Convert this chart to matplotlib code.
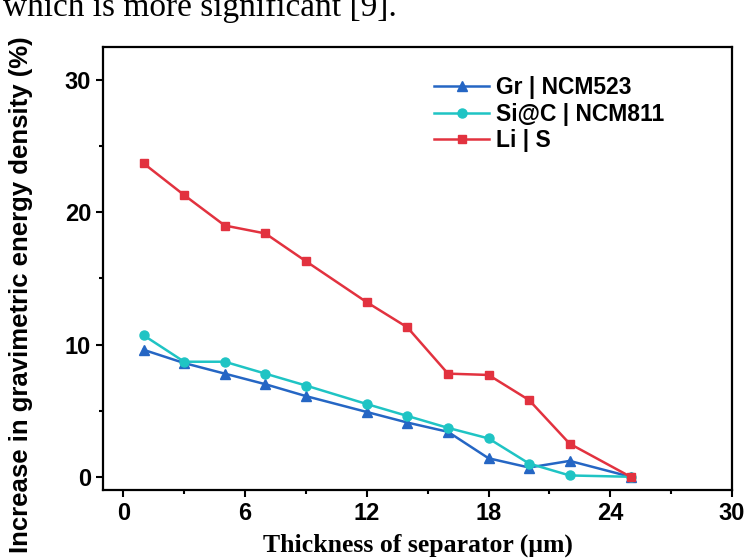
import matplotlib
matplotlib.use("Agg")
import matplotlib.pyplot as plt
from matplotlib.ticker import MultipleLocator

# separator thickness (um)
thickness = [1, 3, 5, 7, 9, 12, 14, 16, 18, 20, 22, 25]

# increase in gravimetric energy density (%)
gr_ncm523 = [9.6, 8.6, 7.8, 7.0, 6.1, 4.9, 4.1, 3.4, 1.4, 0.7, 1.2, 0.0]
sic_ncm811 = [10.7, 8.7, 8.7, 7.8, 6.9, 5.5, 4.6, 3.7, 2.9, 1.0, 0.1, 0.0]
li_s = [23.7, 21.3, 19.0, 18.4, 16.3, 13.2, 11.3, 7.8, 7.7, 5.8, 2.5, 0.0]

labels = ["Gr | NCM523", "Si@C | NCM811", "Li | S"]
xticks = [0, 6, 12, 18, 24, 30]
yticks = [0, 10, 20, 30]

fig = plt.figure(figsize=(7.48, 5.6), dpi=100)
ax = fig.add_axes([103 / 748, 1 - 490 / 560, 629 / 748, 443 / 560])

ax.plot(thickness, gr_ncm523, marker="^", color="#2566c4", lw=1.8, ms=6.5, label=labels[0])
ax.plot(thickness, sic_ncm811, marker="o", color="#1fc4c4", lw=1.8, ms=6.5, label=labels[1])
ax.plot(thickness, li_s, marker="s", color="#e2323f", lw=1.8, ms=6, label=labels[2])

ax.set_xlim(-1, 30)
ax.set_ylim(-1, 32.5)
ax.set_xticks(xticks)
ax.set_yticks(yticks)
ax.xaxis.set_minor_locator(MultipleLocator(3))
ax.yaxis.set_minor_locator(MultipleLocator(5))
ax.tick_params(which="major", direction="out", length=5, width=1.5, labelsize=17)
ax.tick_params(which="minor", direction="out", length=3, width=1.5)
for lab in ax.get_xticklabels() + ax.get_yticklabels():
    lab.set_fontweight("bold")
    lab.set_family("Liberation Sans")
for s in ax.spines.values():
    s.set_linewidth(1.6)

leg = ax.legend(loc="upper right", bbox_to_anchor=(0.925, 0.98), frameon=False,
                prop={"family": "Liberation Sans", "weight": "bold", "size": 16.5},
                handlelength=2.4, handletextpad=0.3, labelspacing=0.15)

fig.text(21 / 748, 1 - 295 / 560, "Increase in gravimetric energy density (%)",
         rotation=90, ha="center", va="center", fontsize=18.5, fontweight="bold",
         family="Liberation Sans")
fig.text(418 / 748, 1 - 545 / 560, "Thickness of separator (\u03bcm)",
         ha="center", va="center", fontsize=18.5, fontweight="bold",
         family="Liberation Serif")

# cropped line of document text above the figure
fig.text(3 / 748, 1 - 16 / 560, "which is more significant [9].",
         ha="left", va="baseline", fontsize=24, family="Liberation Serif")

fig.savefig("out.png", dpi=100)
